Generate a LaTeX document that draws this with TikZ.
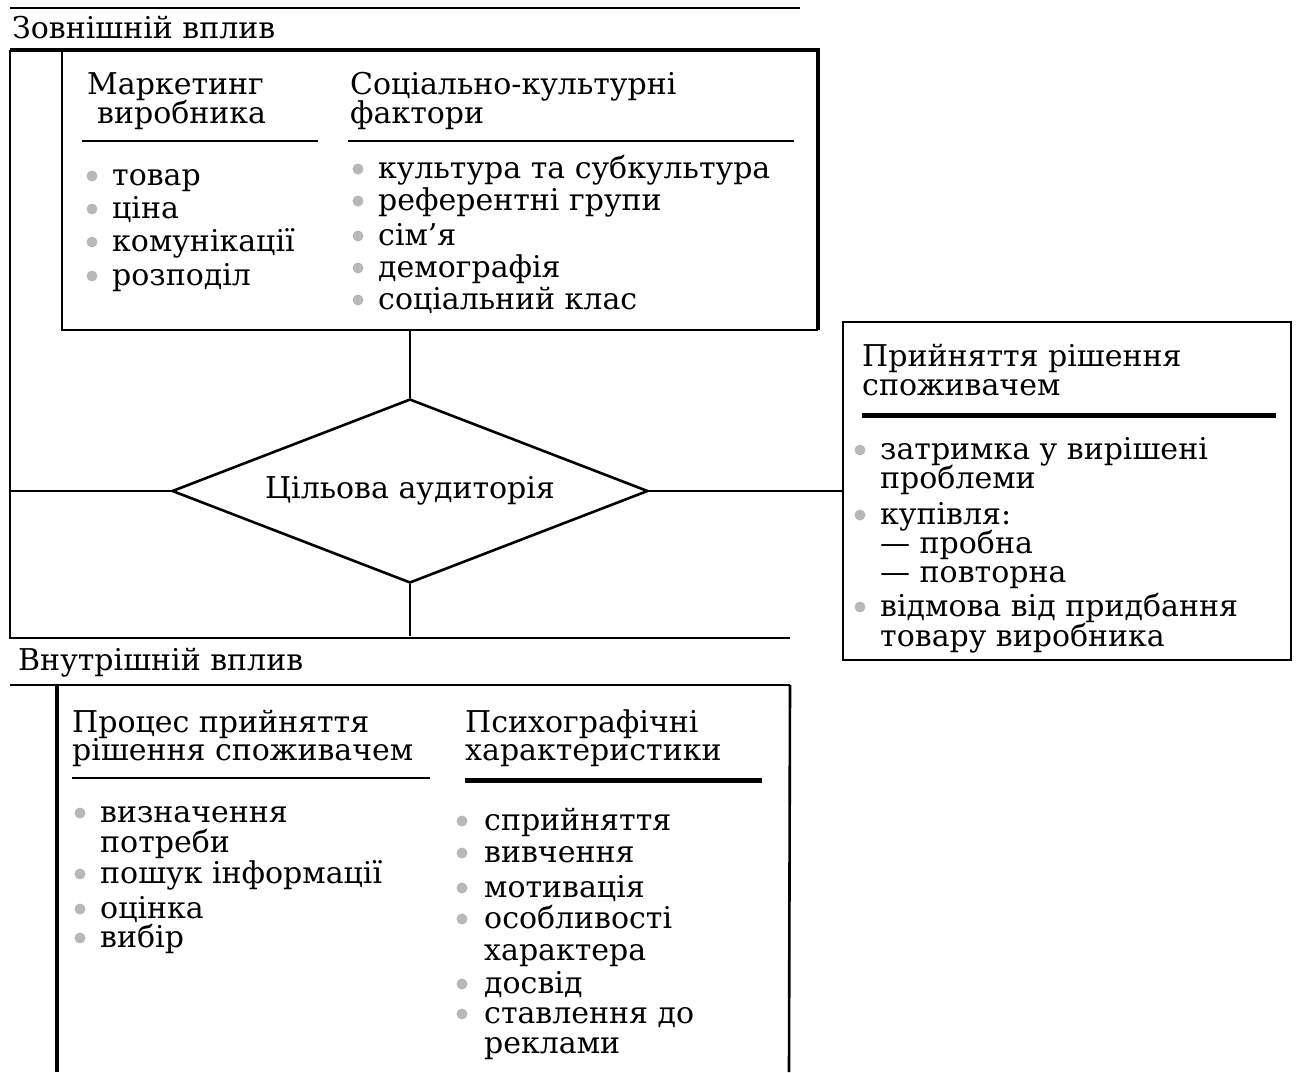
\documentclass[tikz,border=0pt]{standalone}
\usepackage{fontspec}
\setmainfont{DejaVu Serif}
\usetikzlibrary{shapes.geometric}
\definecolor{bulgray}{gray}{0.72}
\newcommand{\txtfont}{\fontsize{30}{30}\selectfont}
\tikzset{
  txt/.style={anchor=base west, inner sep=0pt, font=\txtfont, align=left},
  bul/.style={circle, fill=bulgray, inner sep=0pt, minimum size=11pt},
  thin/.style={line width=2pt},
  mid/.style={line width=2.6pt},
  thick/.style={line width=4pt},
  heavy/.style={line width=5pt},
}
\begin{document}
\begin{tikzpicture}[x=1pt,y=-1pt]
\useasboundingbox (0,0) rectangle (1296,1072);

% ---------- external influence ----------
\coordinate (tl0) at (10,8);
\coordinate (tl1) at (800,8);
\draw[thin] (tl0) -- (tl1);
\node[txt] (ext) at (12,38) {Зовнішній вплив};

\coordinate (oTL) at (10,50);
\coordinate (oTR) at (818,50);
\coordinate (oBR) at (818,330);
\coordinate (iTL) at (62,50);
\coordinate (iBL) at (62,330);
\coordinate (oBL) at (10,638);
\coordinate (oBE) at (790,638);
\draw[thick] (oTL) -- (oTR) -- (oBR);
\draw[thin] (iTL) -- (iBL) -- (oBR);
\draw[thin] (oTL) -- (oBL) -- (oBE);

\node[txt] (h1a) at (87,94) {Маркетинг};
\node[txt] (h1b) at (97,123) {виробника};
\coordinate (u1a) at (82,141);
\coordinate (u1b) at (318,141);
\draw[thin] (u1a) -- (u1b);

\node[txt] (h2a) at (350,94) {Соціально-культурні};
\node[txt] (h2b) at (350,123) {фактори};
\coordinate (u2a) at (348,141);
\coordinate (u2b) at (794,141);
\draw[thin] (u2a) -- (u2b);

\node[bul] (b11) at (92,176) {}; \node[txt] (t11) at (112,185) {товар};
\node[bul] (b12) at (92,209) {}; \node[txt] (t12) at (112,218) {ціна};
\node[bul] (b13) at (92,242) {}; \node[txt] (t13) at (112,251) {комунікації};
\node[bul] (b14) at (92,276) {}; \node[txt] (t14) at (112,285) {розподіл};

\node[bul] (b21) at (358,169) {}; \node[txt] (t21) at (378,178) {культура та субкультура};
\node[bul] (b22) at (358,201) {}; \node[txt] (t22) at (378,210) {референтні групи};
\node[bul] (b23) at (358,236) {}; \node[txt] (t23) at (378,245) {сім’я};
\node[bul] (b24) at (358,268) {}; \node[txt] (t24) at (378,277) {демографія};
\node[bul] (b25) at (358,300) {}; \node[txt] (t25) at (378,309) {соціальний клас};

% ---------- target audience ----------
\node[draw, mid, diamond, aspect=2.59, inner sep=0pt, minimum width=476pt, minimum height=184pt,
      font=\txtfont] (aud) at (410,491) {Цільова аудиторія};
\coordinate (topc) at (410,330);
\coordinate (botc) at (410,636);
\coordinate (leftc) at (10,491);
\draw[thin] (topc) -- (aud.north);
\draw[thin] (aud.south) -- (botc);
\draw[thin] (aud.west) -- (leftc);

% ---------- decision box ----------
\node[draw, mid, minimum width=448pt, minimum height=338pt, inner sep=0pt]
  (dec) at (1067,491) {};
\draw[thin] (aud.east) -- (dec.west);
\node[txt] (d1) at (862,366) {Прийняття рішення};
\node[txt] (d2) at (862,395) {споживачем};
\coordinate (du1) at (862,415);
\coordinate (du2) at (1276,415);
\draw[heavy] (du1) -- (du2);
\node[bul] (db1) at (860,450) {}; \node[txt] (dt1) at (880,459) {затримка у вирішені};
\node[txt] (dt2) at (880,488) {проблеми};
\node[bul] (db3) at (860,515) {}; \node[txt] (dt3) at (880,524) {купівля:};
\node[txt] (dt4) at (880,553) {— пробна};
\node[txt] (dt5) at (880,582) {— повторна};
\node[bul] (db6) at (860,607) {}; \node[txt] (dt6) at (880,616) {відмова від придбання};
\node[txt] (dt7) at (880,646) {товару виробника};

% ---------- internal influence ----------
\node[txt] (int) at (18,670) {Внутрішній вплив};
\coordinate (bTL) at (10,685);
\coordinate (bTR) at (790,685);
\coordinate (bL1) at (57,685);
\coordinate (bL2) at (57,1072);
\coordinate (bR2) at (789,1072);
\draw[mid] (bTL) -- (bTR);
\draw[thick] (bL1) -- (bL2);
\draw[mid] (bTR) -- (bR2);

\node[txt] (h3a) at (72,732) {Процес прийняття};
\node[txt] (h3b) at (72,760) {рішення споживачем};
\coordinate (u3a) at (72,778);
\coordinate (u3b) at (430,778);
\draw[thin] (u3a) -- (u3b);

\node[txt] (h4a) at (465,732) {Психографічні};
\node[txt] (h4b) at (465,760) {характеристики};
\coordinate (u4a) at (465,780);
\coordinate (u4b) at (762,780);
\draw[heavy] (u4a) -- (u4b);

\node[bul] (b31) at (80,813) {}; \node[txt] (t31) at (100,822) {визначення};
\node[txt] (t32) at (100,852) {потреби};
\node[bul] (b33) at (80,874) {}; \node[txt] (t33) at (100,883) {пошук інформації};
\node[bul] (b34) at (80,909) {}; \node[txt] (t34) at (100,918) {оцінка};
\node[bul] (b35) at (80,938) {}; \node[txt] (t35) at (100,947) {вибір};

\node[bul] (b41) at (462,821) {}; \node[txt] (t41) at (484,830) {сприйняття};
\node[bul] (b42) at (462,853) {}; \node[txt] (t42) at (484,862) {вивчення};
\node[bul] (b43) at (462,888) {}; \node[txt] (t43) at (484,897) {мотивація};
\node[bul] (b44) at (462,919) {}; \node[txt] (t44) at (484,928) {особливості};
\node[txt] (t45) at (484,960) {характера};
\node[bul] (b46) at (462,984) {}; \node[txt] (t46) at (484,993) {досвід};
\node[bul] (b47) at (462,1014) {}; \node[txt] (t47) at (484,1023) {ставлення до};
\node[txt] (t48) at (484,1053) {реклами};
\end{tikzpicture}
\end{document}
